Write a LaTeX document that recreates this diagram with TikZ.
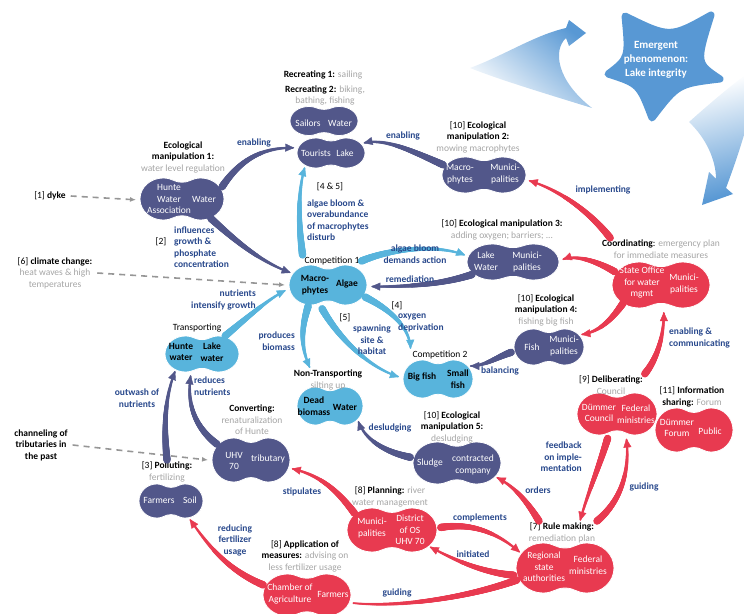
\documentclass[tikz,border=0pt]{standalone}
\usepackage{fontspec}
\setmainfont{Carlito}
\usetikzlibrary{shapes.geometric,arrows.meta,decorations.markings}
\definecolor{bnavy}{RGB}{82,87,138}
\definecolor{lblue}{RGB}{88,180,220}
\definecolor{cred}{RGB}{232,58,80}
\definecolor{labblue}{RGB}{40,72,140}
\definecolor{gtx}{RGB}{165,165,165}
\definecolor{dgrey}{RGB}{150,150,150}
\definecolor{starblue}{RGB}{88,152,212}
\newcommand\peanut[6]{%
 \pgfmathsetmacro\pnD{0.45*#4}%
 \pgfmathsetmacro\pnA{#4-\pnD}%
 \pgfmathsetmacro\pnW{0.8*#5}%
 \fill[#6, draw=white, line width=0.8pt] ({#2-\pnD},{#3-#5}) .. controls ({#2-0.5*\pnD},{#3-#5}) and ({#2-0.45*\pnD},{#3-\pnW}) .. ({#2},{#3-\pnW}) .. controls ({#2+0.45*\pnD},{#3-\pnW}) and ({#2+0.5*\pnD},{#3-#5}) .. ({#2+\pnD},{#3-#5}) arc[start angle=-90,end angle=90,x radius=\pnA,y radius=#5] .. controls ({#2+0.5*\pnD},{#3+#5}) and ({#2+0.45*\pnD},{#3+\pnW}) .. ({#2},{#3+\pnW}) .. controls ({#2-0.45*\pnD},{#3+\pnW}) and ({#2-0.5*\pnD},{#3+#5}) .. ({#2-\pnD},{#3+#5}) arc[start angle=90,end angle=270,x radius=\pnA,y radius=#5] -- cycle;
 \node[anc, minimum width={2*#4}, minimum height={2*#5}] (#1) at (#2,#3) {};}
\tikzset{
 anc/.style={ellipse, inner sep=0pt, outer sep=4pt},
 lbl/.style={text=labblue, font=\fontsize{9.5}{11.5}\selectfont\bfseries, align=center, inner sep=0pt},
 ttl/.style={text=black, align=center, inner sep=0pt, outer sep=2pt},
 wt/.style={text=white, align=center, inner sep=0pt},
 bk/.style={text=black, align=center, inner sep=0pt, font=\fontsize{9.5}{11.5}\selectfont\bfseries},
 dasharrow/.style={draw=dgrey, line width=1.6pt, dash pattern=on 6pt off 5pt, -{Latex[length=6pt,width=5pt]}},
 brush/.style n args={3}{postaction={decorate}, decoration={markings,
   mark=between positions 0 and 0.99 step 0.5pt with {\pgfmathsetmacro\brR{#2+(#3-#2)*\pgfkeysvalueof{/pgf/decoration/mark info/distance from start}/\pgfdecoratedpathlength}\fill[#1] (0,0) circle[radius=\brR pt];},
   mark=at position 1 with {\arrow{Triangle[length=9pt,width=8pt,color=#1]}}}},
 nbrush/.style={brush={bnavy}{3.7}{0.9}},
 bbrush/.style={brush={lblue}{3.7}{0.9}},
 rbrush/.style={brush={cred}{3.7}{0.9}},
}
\begin{document}
\begin{tikzpicture}[x=1pt,y=-1pt,font=\fontsize{9.5}{11.5}\selectfont]
\useasboundingbox (0,0) rectangle (744,613);
% big swooshes
\shade[top color=starblue, bottom color=white, shading angle=-40] (470,68) .. controls (505,55) and (535,35) .. (566,28) -- (569,20) -- (586,33) -- (569,46) -- (566,38) .. controls (553,50) and (556,80) .. (592,108) .. controls (550,95) and (500,80) .. (470,68) -- cycle;
\shade[top color=white, bottom color=starblue, shading angle=15] (689,122) .. controls (708,105) and (728,88) .. (744,76) -- (744,135) .. controls (738,155) and (732,172) .. (726,188) -- (733,194) -- (702,205) -- (709,172) -- (716,179) .. controls (716,160) and (706,138) .. (689,122) -- cycle;
% star
\filldraw[starblue, line width=7pt, line join=round] (625,16) .. controls (670,38) .. (711,15) .. controls (696,63) .. (720,79) .. controls (678,84) .. (652,118) .. controls (639,84) .. (608,74) .. controls (629,58) .. (625,16) -- cycle;
\node[wt, font=\fontsize{11}{14}\selectfont\bfseries] (star) at (656,60) {Emergent\\phenomenon:\\Lake integrity};
% blobs
\peanut{sail}{324}{121}{34}{14.5}{bnavy}
\peanut{tour}{331}{153}{34}{15}{bnavy}
\peanut{hwa}{182}{199}{42}{21}{bnavy}
\peanut{mac2}{484}{175}{42}{18}{bnavy}
\peanut{lak3}{513}{262}{46}{18}{bnavy}
\peanut{fish4}{549}{347}{35}{18}{bnavy}
\peanut{sludge}{457}{463}{44}{21}{bnavy}
\peanut{uhv}{251}{460}{39}{22}{bnavy}
\peanut{farm}{171}{501}{32}{17}{bnavy}
\peanut{comp1}{328}{285}{39}{20}{lblue}
\peanut{trans}{202}{354}{37}{18}{lblue}
\peanut{comp2}{438}{379}{35}{19}{lblue}
\peanut{dead}{330}{406}{33}{19}{lblue}
\peanut{state}{661}{285}{49}{23}{cred}
\peanut{delib}{617}{414}{40}{21}{cred}
\peanut{forum}{694}{430}{39}{22}{cred}
\peanut{rule}{565}{568}{49}{25}{cred}
\peanut{plan}{392}{530}{45}{22}{cred}
\peanut{chamber}{307}{595}{44}{21}{cred}
% blob texts
\node[wt] (saila) at (308,123) {Sailors};
\node[wt] (sailb) at (340,123) {Water};
\node[wt] (toura) at (316,153) {Tourists};
\node[wt] (tourb) at (345,153) {Lake};
\node[wt] (hwaa) at (169,199) {Hunte\\Water\\Association};
\node[wt] (hwab) at (204,199) {Water};
\node[wt] (mac2a) at (460,174) {Macro-\\phytes};
\node[wt] (mac2b) at (505,174) {Munici-\\palities};
\node[wt] (lak3a) at (486,261) {Lake\\Water};
\node[wt] (lak3b) at (527,262) {Munici-\\palities};
\node[wt] (fish4a) at (532,347) {Fish};
\node[wt] (fish4b) at (564,346) {Munici-\\palities};
\node[wt] (sludgea) at (430,463) {Sludge};
\node[wt] (sludgeb) at (473,465) {contracted\\company};
\node[wt] (uhva) at (234,461) {UHV\\70};
\node[wt] (uhvb) at (268,459) {tributary};
\node[wt] (farma) at (159,500) {Farmers};
\node[wt] (farmb) at (190,500) {Soil};
\node[bk] (comp1a) at (315,285) {Macro-\\phytes};
\node[bk] (comp1b) at (347,284) {Algae};
\node[bk] (transa) at (181,352) {Hunte\\water};
\node[bk] (transb) at (212,352) {Lake\\water};
\node[bk] (comp2a) at (422,377) {Big fish};
\node[bk] (comp2b) at (458,379) {Small\\fish};
\node[bk] (deada) at (314,406) {Dead\\biomass};
\node[bk] (deadb) at (345,407) {Water};
\node[wt] (statea) at (642,283) {State Office\\for water\\mgmt};
\node[wt] (stateb) at (684,284) {Munici-\\palities};
\node[wt] (deliba) at (599,413) {Dümmer\\Council};
\node[wt] (delibb) at (636,414) {Federal\\ministries};
\node[wt] (foruma) at (677,428) {Dümmer\\Forum};
\node[wt] (forumb) at (710,431) {Public};
\node[wt] (rulea) at (544,567) {Regional\\state\\authorities};
\node[wt] (ruleb) at (588,565) {Federal\\ministries};
\node[wt] (plana) at (372,528) {Munici-\\palities};
\node[wt] (planb) at (410,530) {District\\of OS\\UHV 70};
\node[wt] (chambera) at (290,594) {Chamber of\\Agriculture};
\node[wt] (chamberb) at (333,594) {Farmers};
% titles
\node[ttl] (trec1) at (323,75) {\textbf{Recreating 1:} \textcolor{gtx}{sailing}};
\node[ttl] (trec2) at (325,95.5) {\textbf{Recreating 2:} \textcolor{gtx}{biking,}\\\textcolor{gtx}{bathing, fishing}};
\node[ttl] (tman1) at (183,157) {\textbf{Ecological}\\\textbf{manipulation 1:}\\\textcolor{gtx}{water level regulation}};
\node[ttl] (tman2) at (478,137) {[10] \textbf{Ecological}\\\textbf{manipulation 2:}\\\textcolor{gtx}{mowing macrophytes}};
\node[ttl] (tman3) at (502,230) {[10] \textbf{Ecological manipulation 3:}\\\textcolor{gtx}{adding oxygen; barriers; ...}};
\node[ttl] (tcoord) at (661,249) {\textbf{Coordinating}: \textcolor{gtx}{emergency plan}\\\textcolor{gtx}{for immediate measures}};
\node[ttl] (tman4) at (546,310) {[10] \textbf{Ecological}\\\textbf{manipulation 4:}\\\textcolor{gtx}{fishing big fish}};
\node[ttl] (tcomp1) at (332,261) {Competition 1};
\node[ttl] (ttrans) at (197,328) {Transporting};
\node[ttl] (tcomp2) at (440,355) {Competition 2};
\node[ttl] (tnontr) at (328,380) {\textbf{Non-Transporting}\\\textcolor{gtx}{silting up}};
\node[ttl] (tconv) at (252,420) {\textbf{Converting:}\\\textcolor{gtx}{renaturalization}\\\textcolor{gtx}{of Hunte}};
\node[ttl] (tpoll) at (167,472) {[3] \textbf{Polluting:}\\\textcolor{gtx}{fertilizing}};
\node[ttl] (tman5) at (452,427) {[10] \textbf{Ecological}\\\textbf{manipulation 5:}\\\textcolor{gtx}{desludging}};
\node[ttl] (tdelib) at (611,385) {[9] \textbf{Deliberating:}\\\textcolor{gtx}{Council}};
\node[ttl] (tinfo) at (692,397) {[11] \textbf{Information}\\\textbf{sharing:} \textcolor{gtx}{Forum}};
\node[ttl] (tplan) at (390,497) {[8] \textbf{Planning:} \textcolor{gtx}{river}\\\textcolor{gtx}{water management}};
\node[ttl] (trule) at (562,533) {[7] \textbf{Rule making:}\\\textcolor{gtx}{remediation plan}};
\node[ttl] (tappl) at (305,556) {[8] \textbf{Application of}\\\textbf{measures:} \textcolor{gtx}{advising on}\\\textcolor{gtx}{less fertilizer usage}};
% external drivers
\node[ttl, outer sep=5pt] (dyke) at (50,196) {[1] \textbf{dyke}};
\node[ttl, outer sep=5pt] (clim) at (55,273) {[6] \textbf{climate change:}\\\textcolor{gtx}{heat waves \& high}\\\textcolor{gtx}{temperatures}};
\node[ttl, outer sep=5pt] (chan) at (41,445) {\textbf{channeling of}\\\textbf{tributaries in}\\\textbf{the past}};
\draw[dasharrow] (dyke.east) -- (hwa.181);
\draw[dasharrow] (clim.east) -- (comp1.west);
\draw[dasharrow] (chan.east) -- (uhv.west);
% navy connectors
\path[nbrush] (hwa.17) .. controls (240,160) and (262,147) .. (tour.172);
\path[nbrush] (mac2.166) .. controls (410,150) and (385,138) .. (tour.17);
\path[nbrush] (hwa.-34) .. controls (240,245) and (262,262) .. (comp1.162);
\path[nbrush] (lak3.197) .. controls (440,285) and (405,287) .. (comp1.-2);
\path[nbrush] (fish4.188) .. controls (495,358) and (485,366) .. (comp2.22);
\path[nbrush] (sludge.173) .. controls (385,452) and (365,440) .. (dead.-28);
\path[nbrush] (tpoll.north) .. controls (163,420) and (166,395) .. (trans.212);
\path[nbrush] (uhv.155) .. controls (192,425) and (187,400) .. (trans.242);
% light blue connectors
\path[bbrush] (tcomp1.north west) .. controls (298,220) and (298,190) .. (tour.208);
\path[bbrush] (tcomp1.east) .. controls (395,247) and (440,245) .. (lak3.172);
\path[bbrush] (trans.38) .. controls (250,315) and (270,298) .. (comp1.187);
\path[bbrush] (comp1.227) .. controls (299,335) and (303,352) .. ([xshift=-18pt]tnontr.north);
\path[bbrush] (comp1.256) .. controls (340,340) and (370,368) .. (comp2.177);
\path[bbrush] (comp1.-18) .. controls (395,312) and (410,330) .. (tcomp2.north west);
% red connectors
\path[rbrush] ([xshift=10pt]tcoord.north west) .. controls (590,212) and (560,190) .. (mac2.-7);
\path[rbrush] (state.164) .. controls (595,260) and (575,255) .. (lak3.3);
\path[rbrush] (state.206) .. controls (610,322) and (598,332) .. (fish4.21);
\path[rbrush] (tdelib.north east) .. controls (660,355) and (664,330) .. (state.276);
\path[rbrush] (delib.249) .. controls (598,470) and (587,495) .. ([xshift=18pt]trule.north);
\path[rbrush] (trule.north east) .. controls (622,500) and (630,470) .. (delib.291);
\path[rbrush] ([xshift=12pt]trule.north west) .. controls (525,498) and (512,485) .. (sludge.-20);
\path[rbrush] (plan.3) .. controls (475,522) and (500,535) .. (rule.161);
\path[rbrush] (rule.188) .. controls (480,572) and (455,560) .. (plan.-24);
\path[rbrush] (rule.194) .. controls (470,597) and (400,608) .. (chamber.-10);
\path[rbrush] (plan.156) .. controls (337,490) and (320,475) .. (uhv.-12);
\path[rbrush] (chamber.167) .. controls (228,570) and (210,548) .. (farm.-44);
% connector labels
\node[lbl] (len1) at (254,143) {enabling};
\node[lbl] (len2) at (403,136) {enabling};
\node[ttl] (l2) at (161,242) {[2]};
\node[lbl, align=left, anchor=west] (linfl) at (174,247) {influences\\growth \&\\phosphate\\concentration};
\node[lbl] (lrem) at (410,279) {remediation};
\node[lbl] (lalg) at (415,254) {algae bloom\\demands action};
\node[lbl] (lbal) at (500,371) {balancing};
\node[lbl] (ldes) at (390,428) {desludging};
\node[lbl] (lout) at (137,398) {outwash of\\nutrients};
\node[lbl, align=left, anchor=west] (lred) at (194,386) {reduces\\nutrients};
\node[ttl] (l45) at (330,187) {[4 \& 5]};
\node[lbl, align=left, anchor=west] (ldist) at (307,220) {algae bloom \&\\overabundance\\of macrophytes\\disturb};
\node[lbl, align=right, anchor=east] (lnut) at (256,300) {nutrients\\intensify growth};
\node[lbl, align=right, anchor=east] (lprod) at (295,341) {produces\\biomass};
\node[ttl] (l5) at (345,318) {[5]};
\node[lbl] (lspawn) at (372,340) {spawning\\site \&\\habitat};
\node[ttl] (l4) at (397,306) {[4]};
\node[lbl, align=left, anchor=west] (loxy) at (398,323) {oxygen\\deprivation};
\node[lbl] (limpl) at (603,190) {implementing};
\node[lbl, align=left, anchor=west] (lencom) at (669,338) {enabling \&\\communicating};
\node[lbl, align=right, anchor=east] (lfeed) at (582,457) {feedback\\on imple-\\mentation};
\node[lbl] (lguid1) at (644,487) {guiding};
\node[lbl] (lord) at (538,490) {orders};
\node[lbl] (lcompl) at (480,518) {complements};
\node[lbl] (linit) at (473,554) {initiated};
\node[lbl] (lguid2) at (397,593) {guiding};
\node[lbl] (lstip) at (302,492) {stipulates};
\node[lbl] (lredf) at (235,540) {reducing\\fertilizer\\usage};
\end{tikzpicture}
\end{document}
